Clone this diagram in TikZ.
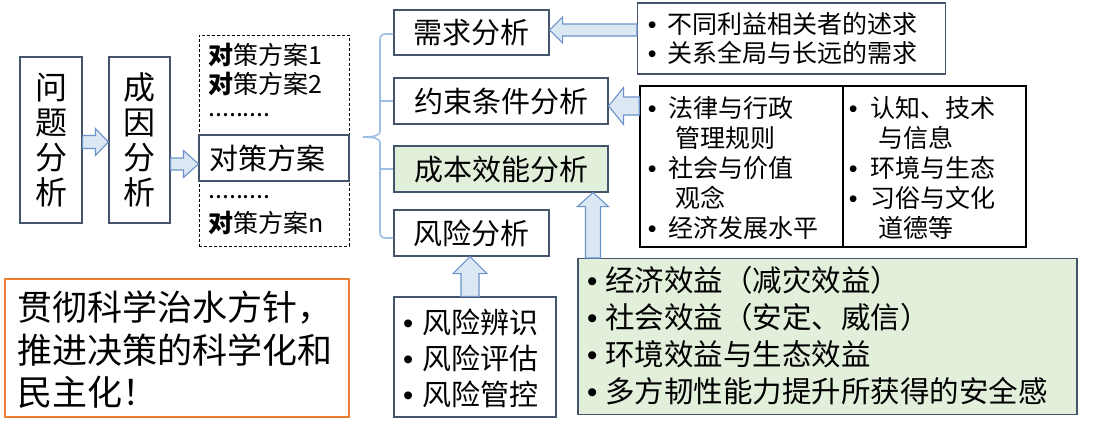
\documentclass[tikz,border=0pt]{standalone}
\usepackage{fontspec}
\setmainfont{Noto Sans CJK SC}
\newfontfamily\libsans{Liberation Sans}
\usetikzlibrary{calc}
\definecolor{bx}{HTML}{44546A}
\definecolor{arb}{HTML}{6C93C8}
\definecolor{arf}{HTML}{DCE7F4}
\definecolor{brc}{HTML}{9DBFE4}
\definecolor{grn}{HTML}{E2EFDA}
\definecolor{org}{HTML}{ED7D31}
\newcommand\bl[2]{\makebox[#1][c]{\libsans •}#2}
\newcommand\arrR[5]{\draw[barrow] ($(#1)+(0,-#3)$) -- ($(#2)+(-#5,-#3)$) -- ($(#2)+(-#5,-#4)$) -- (#2) -- ($(#2)+(-#5,#4)$) -- ($(#2)+(-#5,#3)$) -- ($(#1)+(0,#3)$) -- cycle;}
\newcommand\arrL[5]{\draw[barrow] ($(#1)+(0,-#3)$) -- ($(#2)+(#5,-#3)$) -- ($(#2)+(#5,-#4)$) -- (#2) -- ($(#2)+(#5,#4)$) -- ($(#2)+(#5,#3)$) -- ($(#1)+(0,#3)$) -- cycle;}
\newcommand\arrU[5]{\draw[barrow] ($(#1)+(-#3,0)$) -- ($(#2)+(-#3,#5)$) -- ($(#2)+(-#4,#5)$) -- (#2) -- ($(#2)+(#4,#5)$) -- ($(#2)+(#3,#5)$) -- ($(#1)+(#3,0)$) -- cycle;}
\begin{document}
\begin{tikzpicture}[x=1pt,y=-1pt,
  box/.style={draw=bx, line width=1.1pt, inner sep=0pt},
  vbox/.style={draw=bx, line width=1.1pt, inner sep=0pt, align=center},
  txt/.style={inner sep=0pt, anchor=west},
  barrow/.style={draw=arb, fill=arf, line width=1.1pt, line join=miter},
  brace/.style={draw=brc, line width=1.6pt},
  f25/.style={font=\fontsize{25}{30}\selectfont, text height=22pt, text depth=3pt},
  f29/.style={font=\fontsize{29}{34}\selectfont, text height=25.5pt, text depth=3.5pt},
  f295/.style={font=\fontsize{29.5}{34}\selectfont, text height=26pt, text depth=3.5pt},
  f35/.style={font=\fontsize{35}{42}\selectfont, text height=30.8pt, text depth=4.2pt}]
\useasboundingbox (0,0) rectangle (1093,424);
\fill[white] (0,0) rectangle (1093,424);

% left column boxes
\node[vbox, minimum width=62pt, minimum height=166pt, font=\fontsize{32}{35}\selectfont] (wt) at (51,140) {问\\题\\分\\析};
\node[vbox, minimum width=61pt, minimum height=166pt, font=\fontsize{32}{35}\selectfont] (cy) at (139.5,140) {成\\因\\分\\析};

% dashed options box
\node[draw=black, dashed, dash pattern=on 3pt off 2pt, line width=1pt, minimum width=150pt, minimum height=211pt, inner sep=0pt] (dsh) at (274,140.5) {};
\node[draw=bx, line width=1.1pt, minimum width=150pt, minimum height=46pt, inner sep=0pt] (dc) at (274,158) {};
\node[txt, f25] (d1) at (208,55) {\textbf{对}策方案1};
\node[txt, f25] (d2) at (208,84) {\textbf{对}策方案2};
\node[txt, f25] (d3) at (208,107) {.........};
\node[txt, f29] (d4) at (209,158) {对策方案};
\node[txt, f25] (d5) at (208,189) {.........};
\node[txt, f25] (d6) at (208,223) {\textbf{对}策方案n};

% analysis boxes
\node[box, f29, minimum width=155pt, minimum height=45pt] (xq) at (471.5,32.5) {需求分析};
\node[box, f29, minimum width=214pt, minimum height=46pt] (ys) at (501,101) {约束条件分析};
\node[box, f29, fill=grn, minimum width=214pt, minimum height=46pt] (cb) at (501,169) {成本效能分析};
\node[box, f29, minimum width=155pt, minimum height=46pt] (fx) at (471.5,233) {风险分析};

% right box 1
\node[draw=bx, line width=1.1pt, minimum width=308pt, minimum height=71pt, inner sep=0pt] (r1) at (791.5,38.5) {};
\node[txt, f25] (r1a) at (637,23.5) {\bl{30pt}{不同利益相关者的述求}};
\node[txt, f25] (r1b) at (637,52.5) {\bl{30pt}{关系全局与长远的需求}};

% right box 2
\node[draw=black, line width=1.5pt, minimum width=386pt, minimum height=161pt, inner sep=0pt] (r2) at (833,166.5) {};
\coordinate (dv) at (843,0);
\draw[black, line width=1.5pt] (r2.north -| dv) -- (r2.south -| dv);
\node[txt, f25] (c1) at (636,108) {\bl{32pt}{法律与行政}};
\node[txt, f25] (c2) at (636,138) {\hspace*{39pt}管理规则};
\node[txt, f25] (c3) at (636,168) {\bl{32pt}{社会与价值}};
\node[txt, f25] (c4) at (636,198) {\hspace*{39pt}观念};
\node[txt, f25] (c5) at (636,228) {\bl{32pt}{经济发展水平}};
\node[txt, f25] (e1) at (836,108) {\bl{34pt}{认知、技术}};
\node[txt, f25] (e2) at (836,138) {\hspace*{42pt}与信息};
\node[txt, f25] (e3) at (836,168) {\bl{34pt}{环境与生态}};
\node[txt, f25] (e4) at (836,198) {\bl{34pt}{习俗与文化}};
\node[txt, f25] (e5) at (836,228) {\hspace*{42pt}道德等};

% green box
\node[draw=bx, fill=grn, line width=1.1pt, minimum width=499pt, minimum height=156pt, inner sep=0pt] (gr) at (827.5,336.5) {};
\node[txt, f295] (g1) at (579,280) {\bl{26pt}{经济效益（减灾效益）}};
\node[txt, f295] (g2) at (579,317) {\bl{26pt}{社会效益（安定、威信）}};
\node[txt, f295] (g3) at (579,354) {\bl{26pt}{环境效益与生态效益}};
\node[txt, f295] (g4) at (579,391) {\bl{26pt}{多方韧性能力提升所获得的安全感}};

% risk box
\node[draw=bx, line width=1.1pt, minimum width=162pt, minimum height=120pt, inner sep=0pt] (rk) at (475,357) {};
\node[txt, f29] (k1) at (394,322) {\bl{28pt}{风险辨识}};
\node[txt, f29] (k2) at (394,358) {\bl{28pt}{风险评估}};
\node[txt, f29] (k3) at (394,394) {\bl{28pt}{风险管控}};

% orange box
\node[draw=org, line width=1.1pt, minimum width=344pt, minimum height=138pt, inner sep=0pt] (og) at (177,348) {};
\node[txt, f35] (o1) at (17,307) {贯彻科学治水方针，};
\node[txt, f35] (o2) at (17,350) {推进决策的科学化和};
\node[txt, f35] (o3) at (17,392) {民主化！};

% helper coordinates
\coordinate (vx) at (380,0);
\coordinate (yb1) at (0,34);
\coordinate (yb2) at (0,238);
\coordinate (ya1) at (0,142);
\coordinate (ya2) at (0,164);
\coordinate (ya3) at (0,30);
\coordinate (ya4) at (0,106);
\coordinate (xa5) at (593,0);
\coordinate (xa6) at (470,0);

% brace
\coordinate (bt) at (xq.west |- yb1);
\coordinate (bb) at (fx.west |- yb2);
\draw[brace] (bt) -- (386,34) .. controls (381.5,34) and (380,36) .. (380,40) -- (380,131) .. controls (380,135) and (376,137) .. (363,137) .. controls (376,137) and (380,139) .. (380,143) -- (380,232) .. controls (380,236) and (381.5,238) .. (386,238) -- (bb);
\draw[brace] (ys.west) -- (ys.west -| vx);
\draw[brace] (cb.west) -- (cb.west -| vx);

% block arrows
\coordinate (a1s) at (wt.east |- ya1);
\coordinate (a1e) at (cy.west |- ya1);
\arrR{a1s}{a1e}{6.5}{13.5}{13}
\coordinate (a2s) at (cy.east |- ya2);
\coordinate (a2e) at (dc.west |- ya2);
\arrR{a2s}{a2e}{6}{13.5}{15}
\coordinate (a3s) at (r1.west |- ya3);
\coordinate (a3e) at (xq.east |- ya3);
\arrL{a3s}{a3e}{6}{13}{13}
\coordinate (a4s) at (r2.west |- ya4);
\coordinate (a4e) at (ys.east |- ya4);
\arrL{a4s}{a4e}{9}{18.5}{15}
\coordinate (a5s) at (xa5 |- gr.north);
\coordinate (a5e) at (xa5 |- cb.south);
\arrU{a5s}{a5e}{7.5}{15.5}{14}
\coordinate (a6s) at (xa6 |- rk.north);
\coordinate (a6e) at (xa6 |- fx.south);
\arrU{a6s}{a6e}{9}{17}{17}
\end{tikzpicture}
\end{document}
